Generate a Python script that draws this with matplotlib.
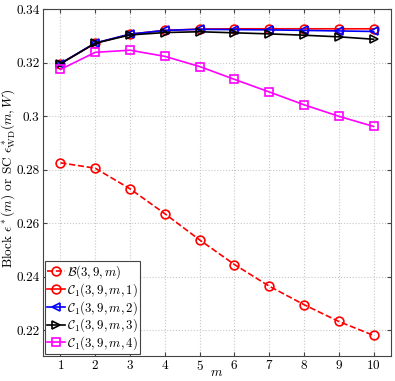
import matplotlib
matplotlib.use("Agg")
import matplotlib.pyplot as plt
import numpy as np

plt.rcParams['font.family'] = 'serif'
plt.rcParams['font.serif'] = ['cmr10', 'DejaVu Serif']
plt.rcParams['mathtext.fontset'] = 'cm'
plt.rcParams['axes.formatter.use_mathtext'] = True

m = [1, 2, 3, 4, 5, 6, 7, 8, 9, 10]
B = [0.2825, 0.2805, 0.2728, 0.2635, 0.2537, 0.2445, 0.2364, 0.2295, 0.2232, 0.2180]
C1_1 = [0.3196, 0.3272, 0.3306, 0.3320, 0.3325, 0.3326, 0.3326, 0.3326, 0.3326, 0.3326]
C1_2 = [0.3196, 0.3273, 0.3306, 0.3320, 0.3324, 0.3323, 0.3322, 0.3320, 0.3318, 0.3316]
C1_3 = [0.3195, 0.3272, 0.3303, 0.3312, 0.3315, 0.3311, 0.3307, 0.3302, 0.3296, 0.3287]
C1_4 = [0.3174, 0.3238, 0.3246, 0.3223, 0.3185, 0.3137, 0.3090, 0.3042, 0.2999, 0.2961]
labels = [r'$\mathcal{B}(3,9,m)$', r'$\mathcal{C}_1(3,9,m,1)$', r'$\mathcal{C}_1(3,9,m,2)$',
          r'$\mathcal{C}_1(3,9,m,3)$', r'$\mathcal{C}_1(3,9,m,4)$']
yticks = [0.22, 0.24, 0.26, 0.28, 0.3, 0.32, 0.34]
ytick_labels = ['0.22', '0.24', '0.26', '0.28', '0.3', '0.32', '0.34']

fig = plt.figure(figsize=(3.95, 3.81), dpi=100)
ax = fig.add_axes([43/395, 1-356/381, 348/395, 347/381])

ms = 6.3
kw = dict(markerfacecolor='none', markersize=ms, markeredgewidth=1.2, linewidth=1.2)
ax.plot(m, B, '--o', color='red', label=labels[0], **kw)
ax.plot(m, C1_1, '-o', color='red', label=labels[1], **kw)
ax.plot(m, C1_2, '-<', color='blue', label=labels[2], **kw)
ax.plot(m, C1_3, '->', color='black', label=labels[3], **kw)
ax.plot(m, C1_4, '-s', color='magenta', label=labels[4], markerfacecolor='none',
        markersize=5.5, markeredgewidth=1.2, linewidth=1.2)

ax.set_xlim(0.5, 10.5)
ax.set_ylim(0.2103, 0.34)
ax.set_xticks(m)
ax.set_yticks(yticks)
ax.set_yticklabels(ytick_labels)
ax.tick_params(direction='in', labelsize=9.5, top=True, right=True, length=3,
               color='#444444', pad=2.5)
ax.grid(True, linestyle=':', color='#c8c8c8', linewidth=0.8)
for s in ax.spines.values():
    s.set_color('#444444')
    s.set_linewidth(0.8)

fig.text(217/395, 1-373/381, r'$m$', fontsize=9.5, ha='center', va='center')
fig.text(8/395, 1-178/381, r'Block $\epsilon^*(m)$ or SC $\epsilon^*_{\rm WD}(m,W)$',
         fontsize=9.5, ha='center', va='center', rotation=90)

leg = ax.legend(loc='lower left', fontsize=9.2, handlelength=1.4, handletextpad=0.2,
                borderaxespad=0.15, borderpad=0.15, labelspacing=0.0, fancybox=False,
                framealpha=1)
leg.get_frame().set_edgecolor('#444444')
leg.get_frame().set_linewidth(0.8)

fig.savefig('out.png', dpi=100)
